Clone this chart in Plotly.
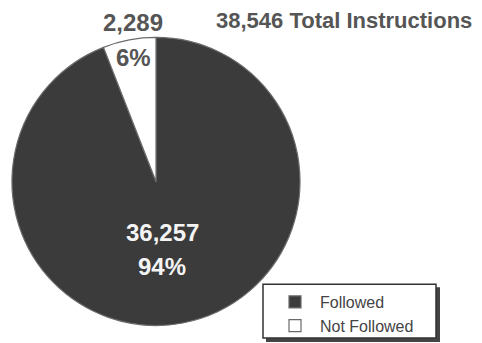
import plotly.graph_objects as go

categories = ["Followed", "Not Followed"]
counts = [36257, 2289]
colors = ["#3b3b3b", "#ffffff"]
total = sum(counts)
title_text = f"{total:,} Total Instructions"

W, H = 482, 343
FONT = "Liberation Sans, Arial, sans-serif"

fig = go.Figure()
fig.add_trace(go.Pie(
    labels=categories,
    values=counts,
    sort=False,
    direction="clockwise",
    rotation=0,
    marker=dict(colors=colors, line=dict(color="#6a6a6a", width=1.2)),
    textinfo="none",
    hoverinfo="label+value+percent",
    domain=dict(x=[12 / W, 300 / W], y=[1 - 327 / H, 1 - 37 / H]),
))

pct = [round(100 * c / total) for c in counts]

ann = [
    dict(x=162 / W, y=1 - 233 / H, text=f"<b>{counts[0]:,}</b>", font=dict(color="#f4f4f4", size=24, family=FONT)),
    dict(x=162 / W, y=1 - 267 / H, text=f"<b>{pct[0]}%</b>", font=dict(color="#f4f4f4", size=24, family=FONT)),
    dict(x=133 / W, y=1 - 23 / H, text=f"<b>{counts[1]:,}</b>", font=dict(color="#555555", size=24, family=FONT)),
    dict(x=133 / W, y=1 - 58 / H, text=f"<b>{pct[1]}%</b>", font=dict(color="#555555", size=24, family=FONT)),
    dict(x=474 / W, y=1 - 21 / H, xanchor="right", text=f"<b>{title_text}</b>", font=dict(color="#555555", size=22, family=FONT)),
]
for a in ann:
    a.setdefault("xanchor", "center")
    a.update(xref="paper", yref="paper", yanchor="middle", showarrow=False)

fig.update_layout(
    width=W, height=H,
    margin=dict(l=0, r=0, t=0, b=0),
    paper_bgcolor="white",
    plot_bgcolor="white",
    annotations=ann,
    showlegend=True,
    legend=dict(
        x=270 / W, y=1 - 286 / H, xanchor="left", yanchor="top",
        borderwidth=0, bgcolor="rgba(0,0,0,0)",
        font=dict(family=FONT, size=16, color="#444444"),
        itemwidth=40, tracegroupgap=0,
    ),
    shapes=[
        dict(type="rect", xref="paper", yref="paper",
             x0=266 / W, x1=440 / W, y0=1 - 343 / H, y1=1 - 288 / H,
             fillcolor="#444444", line=dict(width=0), layer="below"),
        dict(type="rect", xref="paper", yref="paper",
             x0=263 / W, x1=436 / W, y0=1 - 339 / H, y1=1 - 285 / H,
             fillcolor="white", line=dict(width=1.5, color="#333333"), layer="below"),
    ],
)

fig.write_html("out.html", config={"displayModeBar": False},
               post_script="document.body.style.margin='0';")
